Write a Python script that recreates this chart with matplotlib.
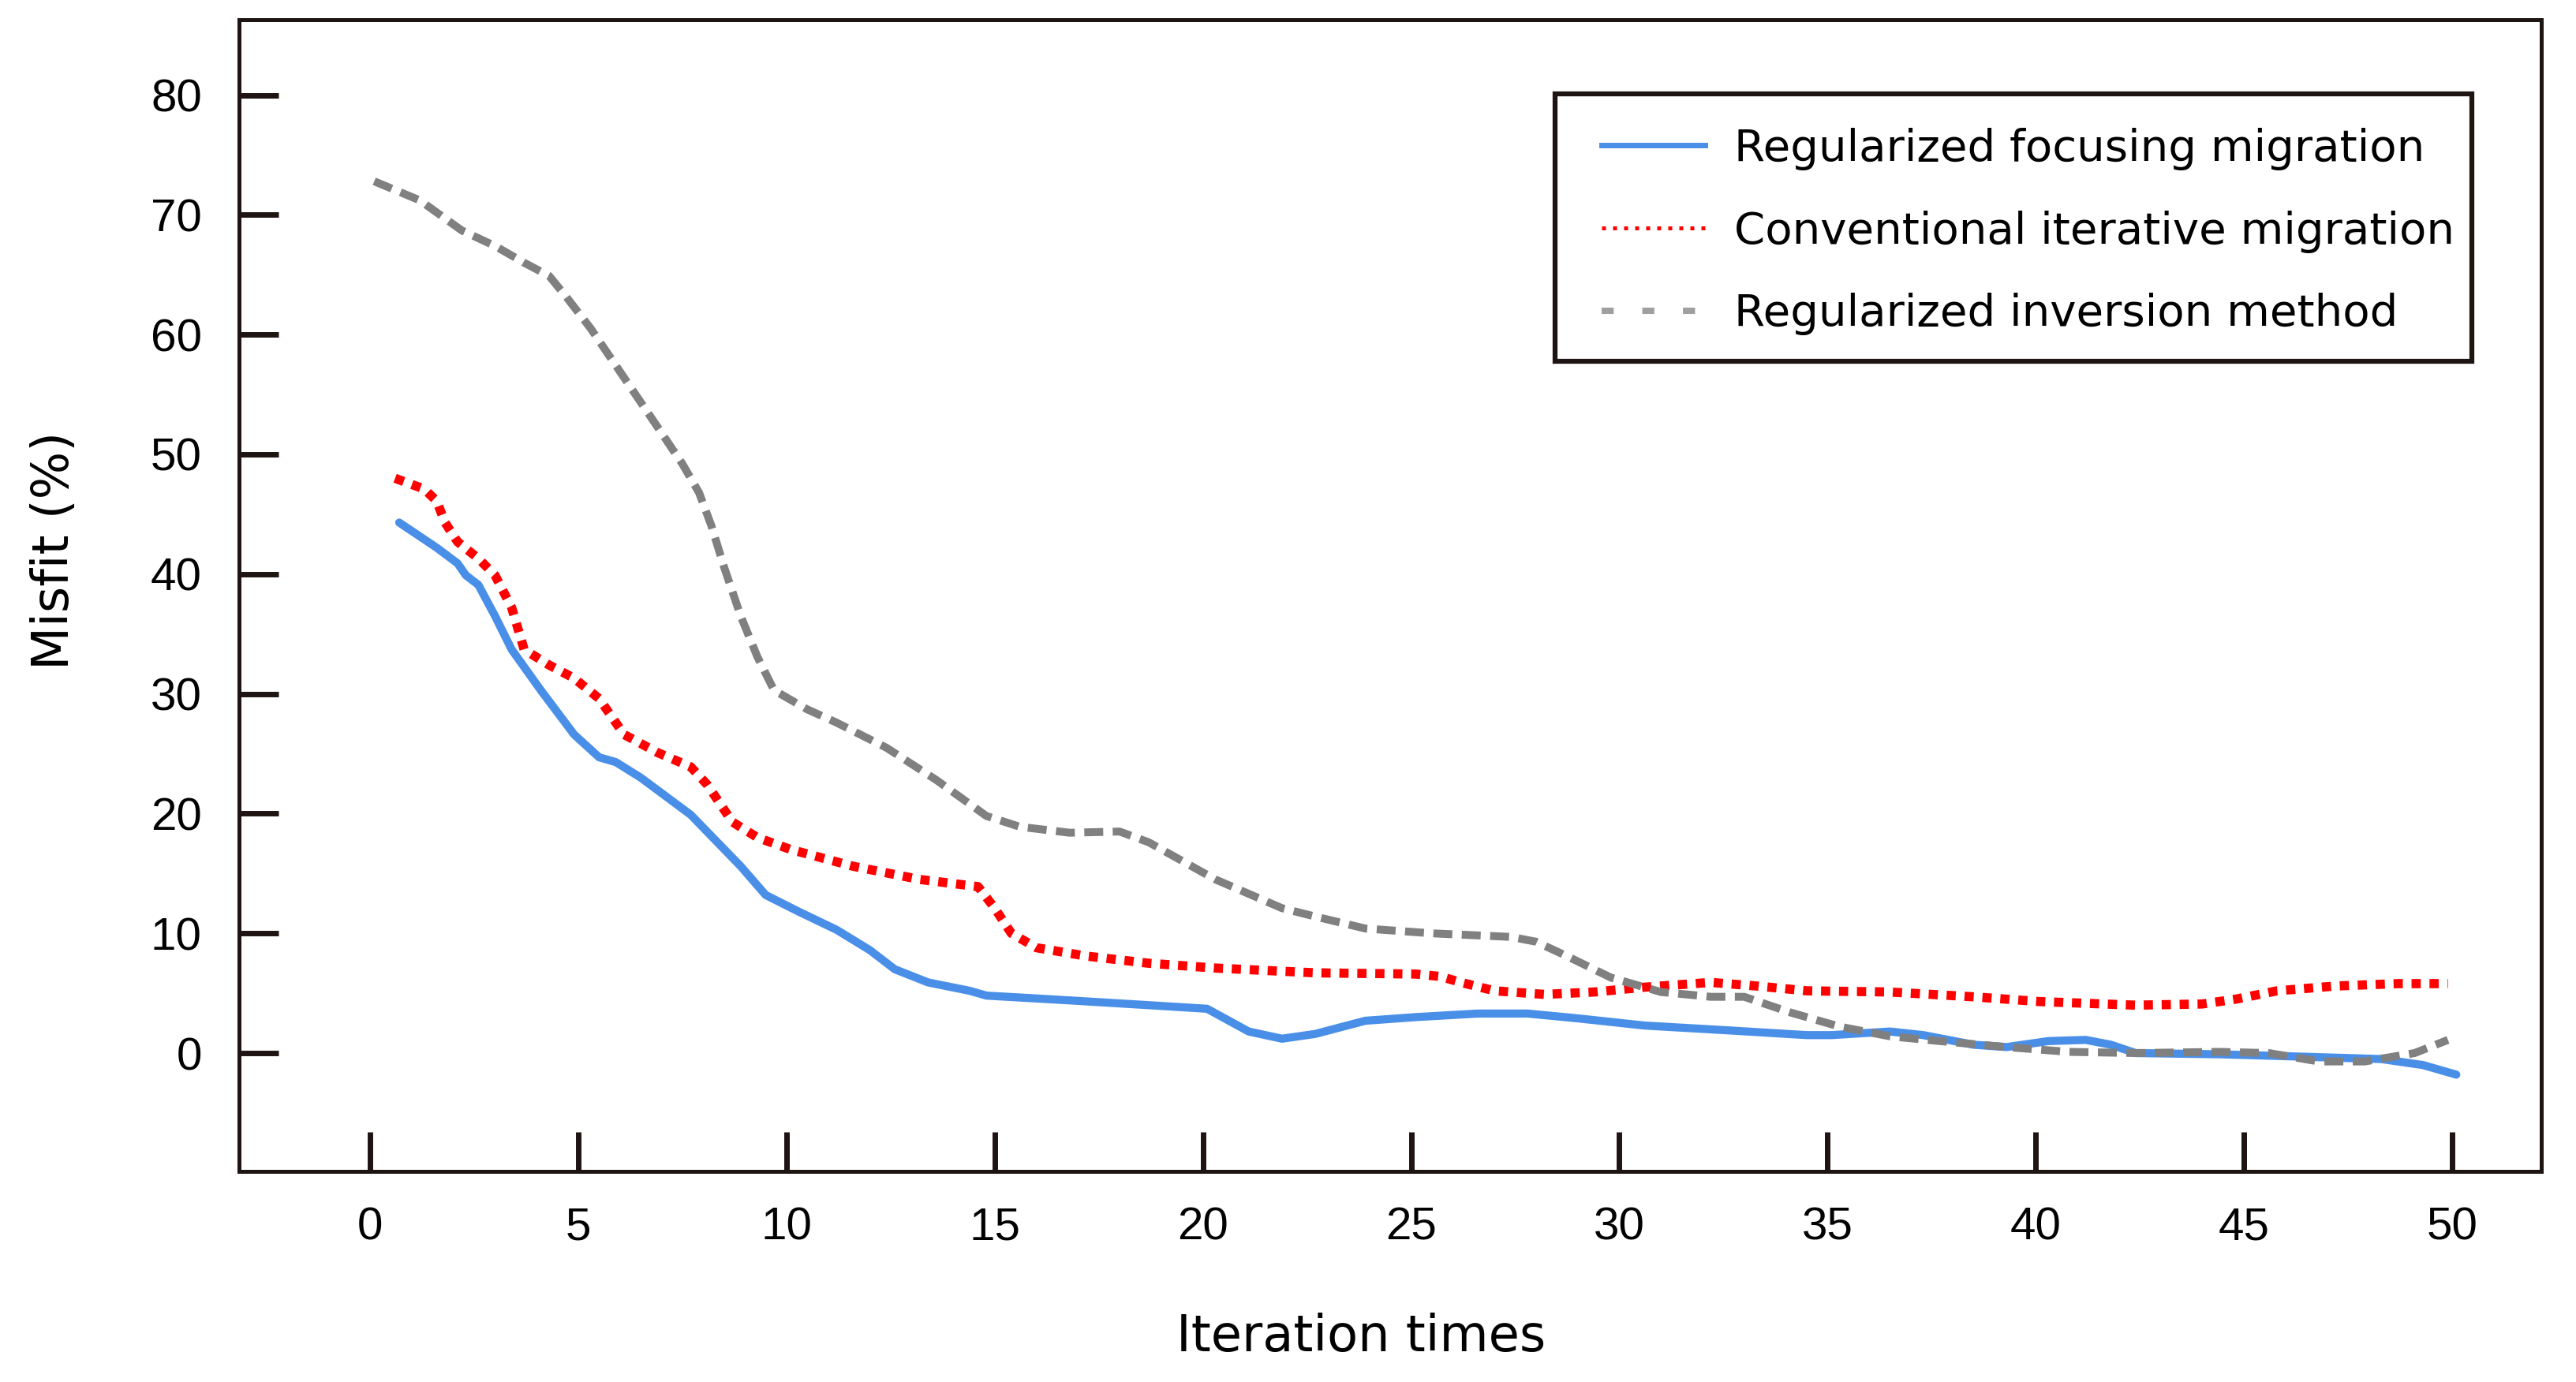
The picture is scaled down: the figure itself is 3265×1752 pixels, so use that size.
import matplotlib
matplotlib.use("Agg")
import matplotlib.pyplot as plt
from matplotlib.lines import Line2D
from matplotlib.patches import Rectangle

plt.rcParams['font.family'] = ['Liberation Sans', 'DejaVu Sans']

# Regularized focusing migration
x_rfm = [0.7, 1.6, 2.1, 2.3, 2.6, 3.0, 3.4, 4.1, 4.9, 5.5, 5.9, 6.5, 7.7, 8.9, 9.5, 10.3,
         11.2, 12.0, 12.6, 13.4, 14.4, 14.8, 16.8, 18.7, 20.1, 21.1, 21.9, 22.7, 23.9, 25.1,
         26.6, 27.8, 29.0, 30.6, 32.6, 34.5, 35.1, 36.5, 37.3, 38.5, 39.3, 40.3, 41.2, 41.8,
         42.4, 44.4, 46.4, 48.3, 49.3, 50.1]
y_rfm = [44.3, 42.2, 40.9, 39.9, 39.1, 36.5, 33.7, 30.3, 26.6, 24.7, 24.3, 23.0, 19.9, 15.6,
         13.2, 11.8, 10.3, 8.6, 7.0, 5.9, 5.2, 4.8, 4.4, 4.0, 3.7, 1.8, 1.2, 1.6, 2.7, 3.0,
         3.3, 3.3, 2.9, 2.3, 1.9, 1.5, 1.5, 1.8, 1.5, 0.7, 0.5, 1.0, 1.1, 0.7, 0.0, -0.1,
         -0.3, -0.5, -1.0, -1.8]

# Conventional iterative migration
x_cim = [0.6, 1.3, 1.6, 1.8, 2.1, 2.6, 3.0, 3.4, 3.7, 4.3, 4.9, 5.5, 6.1, 6.9, 7.7, 8.1,
         8.7, 9.3, 10.1, 11.6, 13.2, 14.6, 15.0, 15.4, 16.0, 17.2, 18.7, 20.3, 22.7, 25.1,
         25.7, 26.2, 27.0, 28.2, 29.4, 30.6, 32.2, 33.3, 34.5, 36.5, 38.5, 40.1, 42.4, 44.0,
         44.8, 45.8, 47.2, 48.7, 49.9]
y_cim = [48.0, 47.1, 46.1, 44.3, 42.7, 41.3, 39.9, 37.2, 33.7, 32.4, 31.3, 29.6, 26.6, 25.1,
         23.9, 22.4, 19.3, 18.0, 17.0, 15.6, 14.5, 13.9, 12.1, 10.0, 8.8, 8.1, 7.5, 7.1, 6.7,
         6.6, 6.4, 5.9, 5.2, 4.9, 5.1, 5.5, 5.9, 5.6, 5.2, 5.1, 4.7, 4.3, 4.0, 4.1, 4.5, 5.2,
         5.6, 5.8, 5.8]

# Regularized inversion method
x_rim = [0.1, 1.2, 2.2, 3.0, 3.7, 4.3, 4.7, 5.3, 6.1, 6.9, 7.5, 7.9, 8.2, 8.5, 8.9, 9.3,
         9.7, 10.5, 11.2, 12.4, 13.6, 14.8, 15.6, 16.8, 18.0, 18.7, 20.3, 21.9, 22.7, 23.9,
         25.5, 27.4, 28.0, 28.8, 29.8, 31.0, 32.2, 33.0, 34.1, 35.3, 36.5, 37.7, 39.3, 40.8,
         42.4, 44.4, 45.6, 46.8, 47.9, 49.1, 49.9]
y_rim = [72.8, 71.2, 68.7, 67.4, 66.0, 64.9, 63.2, 60.5, 56.4, 52.3, 49.2, 46.8, 44.0, 40.6,
         36.5, 33.1, 30.3, 28.7, 27.6, 25.5, 22.8, 19.8, 18.9, 18.4, 18.5, 17.6, 14.5, 12.1,
         11.4, 10.4, 10.0, 9.7, 9.3, 8.0, 6.3, 5.1, 4.7, 4.7, 3.4, 2.2, 1.4, 1.0, 0.5, 0.1,
         0.0, 0.1, 0.0, -0.7, -0.7, 0.0, 1.1]

labels = ["Regularized focusing migration", "Conventional iterative migration",
          "Regularized inversion method"]
xticks = [0, 5, 10, 15, 20, 25, 30, 35, 40, 45, 50]
yticks = [0, 10, 20, 30, 40, 50, 60, 70, 80]

DPI = 100
fig = plt.figure(figsize=(32.66, 17.52), dpi=DPI)
ax = fig.add_axes([0.0928, 0.1524, 0.8934, 0.8333])

blue = '#4a8fe7'
red = '#ff0000'
gray = '#808080'
ink = '#1e1412'

ax.plot(x_rfm, y_rfm, color=blue, lw=7.4, solid_capstyle='round', solid_joinstyle='round')
ax.plot(x_cim, y_cim, color=red, lw=8.4, linestyle=(0, (1.0, 0.95)), dash_capstyle='butt')
ax.plot(x_rim, y_rim, color=gray, lw=7.2, linestyle=(0, (2.4, 1.2)), dash_capstyle='butt')

ax.set_xlim(-3.145, 52.14)
ax.set_ylim(-9.88, 86.29)
ax.set_xticks(xticks)
ax.set_yticks(yticks)

for s in ax.spines.values():
    s.set_linewidth(3.6)
    s.set_color(ink)

ax.tick_params(axis='x', direction='in', length=36, width=5, colors=ink,
               labelsize=42, pad=32, labelcolor='black')
ax.tick_params(axis='y', direction='in', length=36, width=5, colors=ink,
               labelsize=42, pad=34, labelcolor='black')

text_family = ['DejaVu Sans']
ax.set_xlabel("Iteration times", fontsize=46, family=text_family)
ax.xaxis.label.set_va('baseline')
ax.xaxis.set_label_coords(0.4873, -0.1562)
ax.set_ylabel("Misfit (%)", fontsize=46, family=text_family)
ax.yaxis.label.set_va('center')
ax.yaxis.set_label_coords(-0.0802, 0.539)

handles = [
    Line2D([], [], color=blue, lw=5.0),
    Line2D([], [], color=red, lw=3.6, linestyle=(0, (1.0, 1.8))),
    Line2D([], [], color='#9f9f9f', lw=5.8, linestyle=(0, (1.9, 4.5))),
]
leg = ax.legend(handles, labels, loc='upper left', bbox_to_anchor=(0.5918, 0.9062),
                borderaxespad=0, borderpad=0, frameon=False,
                prop={'family': text_family, 'size': 40.5},
                handlelength=2.33, handletextpad=0.66, labelspacing=0.90)

box = Rectangle((0.5716, 0.7034), 0.970 - 0.5716, 0.9356 - 0.7034, transform=ax.transAxes,
                fill=False, edgecolor=ink, lw=4.5, zorder=5)
ax.add_patch(box)

fig.savefig("out.png", dpi=DPI)
